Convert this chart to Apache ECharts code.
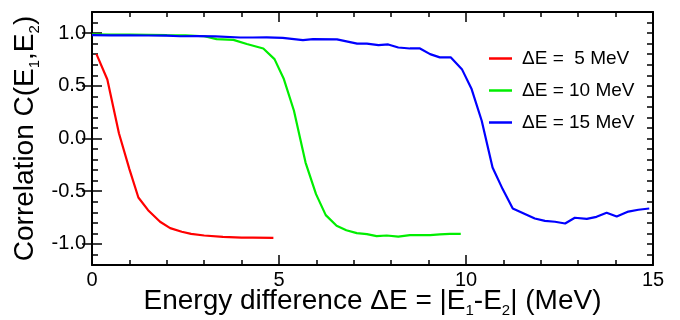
<!DOCTYPE html>
<html>
<head>
<meta charset="utf-8">
<script src="https://cdn.jsdelivr.net/npm/echarts@6/dist/echarts.min.js"></script>
<style>html,body{margin:0;padding:0;background:#fff}#c{width:680px;height:320px}</style>
</head>
<body>
<div id="c"></div>
<script>
const seriesNames = ['\u0394E =  5 MeV', '\u0394E = 10 MeV', '\u0394E = 15 MeV'];
const yTickLabels = [-1.0, -0.5, 0.0, 0.5, 1.0];

const redX = [0.12, 0.41, 0.72, 1.0, 1.24, 1.5, 1.82, 2.09, 2.4, 2.65, 3.0, 3.5, 4.0, 4.3, 4.85];
const redY = [0.80, 0.56, 0.05, -0.29, -0.56, -0.68, -0.79, -0.85, -0.885, -0.905, -0.92, -0.933, -0.94, -0.94, -0.942];

const greenX = [0, 0.5, 1.0, 1.5, 2.0, 2.5, 3.0, 3.33, 3.78, 4.14, 4.58, 4.88, 5.13, 5.40, 5.56, 5.71, 5.99, 6.25, 6.54, 6.8, 7.08, 7.35, 7.61, 7.88, 8.19, 8.50, 8.8, 9.04, 9.3, 9.57, 9.86];
const greenY = [0.987, 0.985, 0.985, 0.983, 0.98, 0.978, 0.97, 0.943, 0.936, 0.896, 0.854, 0.753, 0.564, 0.263, 0.01, -0.228, -0.528, -0.727, -0.828, -0.87, -0.898, -0.907, -0.926, -0.92, -0.93, -0.917, -0.917, -0.917, -0.91, -0.904, -0.904];

const blueX = [0, 0.5, 1.0, 1.5, 2.0, 2.35, 2.8, 3.3, 3.96, 4.3, 4.67, 5.1, 5.64, 5.91, 6.55, 7.09, 7.35, 7.66, 7.92, 8.19, 8.50, 8.77, 9.04, 9.30, 9.59, 9.89, 10.15, 10.42, 10.71, 10.98, 11.25, 11.53, 11.84, 12.11, 12.38, 12.65, 12.91, 13.23, 13.49, 13.76, 14.03, 14.34, 14.61, 14.9];
const blueY = [0.98, 0.978, 0.978, 0.977, 0.975, 0.97, 0.972, 0.968, 0.958, 0.958, 0.96, 0.955, 0.933, 0.943, 0.94, 0.90, 0.90, 0.886, 0.892, 0.863, 0.854, 0.854, 0.80, 0.77, 0.77, 0.658, 0.469, 0.168, -0.275, -0.48, -0.664, -0.708, -0.759, -0.781, -0.79, -0.806, -0.752, -0.762, -0.743, -0.705, -0.74, -0.693, -0.676, -0.664];

const colors = ['#ff0000', '#00ee00', '#0000ff'];
const zip = (xs, ys) => xs.map((x, i) => [x, ys[i]]);

const FONT = 'Liberation Sans, Arial, sans-serif';
const lineCol = '#000';
const frame = () => ({ show: true, onZero: false, lineStyle: { color: lineCol, width: 2 } });
const tick = (len, extra) => Object.assign({ show: true, inside: true, length: len, lineStyle: { color: lineCol, width: 1.5 } }, extra || {});
const subRich = () => ({ s: { fontSize: 15, fontFamily: FONT, color: '#000', verticalAlign: 'bottom', lineHeight: 13 } });
const titleStyle = () => ({ fontFamily: FONT, fontSize: 28, lineHeight: 34, color: '#000', rich: subRich() });

const chart = echarts.init(document.getElementById('c'), null, { renderer: 'canvas' });
chart.setOption({
  animation: false,
  backgroundColor: '#fff',
  grid: { left: 92, right: 27, top: 12, bottom: 55, containLabel: false, outerBoundsMode: 'none' },
  legend: {
    orient: 'vertical', left: 484, top: 44, padding: 5, itemWidth: 23, itemHeight: 2.5, itemGap: 13,
    icon: 'rect',
    data: seriesNames,
    textStyle: { fontFamily: FONT, fontSize: 19, color: '#000', padding: [0, 0, 0, 5] }
  },
  xAxis: [
    {
      type: 'value', position: 'bottom', min: 0, max: 15, interval: 5,
      axisLine: frame(),
      axisTick: tick(10),
      minorTick: { show: true, splitNumber: 5, length: 5, lineStyle: { color: lineCol, width: 1.5 } },
      splitLine: { show: false }, minorSplitLine: { show: false },
      axisLabel: { fontFamily: FONT, fontSize: 20, color: '#000', margin: 5 },
      name: 'Energy difference \u0394E = |E{s|1}-E{s|2}| (MeV)',
      nameLocation: 'middle', nameGap: 19, nameMoveOverlap: false,
      nameTextStyle: titleStyle()
    },
    {
      type: 'value', position: 'top', min: 0, max: 15, interval: 5,
      axisLine: frame(),
      axisTick: tick(10),
      minorTick: { show: true, splitNumber: 5, length: 5, lineStyle: { color: lineCol, width: 1.5 } },
      splitLine: { show: false }, minorSplitLine: { show: false }, axisLabel: { show: false }
    }
  ],
  yAxis: [
    {
      type: 'value', position: 'left', min: -1.2, max: 1.2, interval: 0.1,
      axisLine: frame(),
      axisTick: tick(6),
      splitLine: { show: false }, axisLabel: { show: false },
      name: 'Correlation C(E{s|1},E{s|2})',
      nameLocation: 'middle', nameGap: 50, nameMoveOverlap: false,
      nameTextStyle: titleStyle()
    },
    {
      type: 'value', position: 'left', min: -1.2, max: 1.2, interval: 0.1,
      axisLine: { show: false },
      axisTick: tick(10, { customValues: yTickLabels }),
      splitLine: { show: false },
      axisLabel: { fontFamily: FONT, fontSize: 20, color: '#000', margin: 6,
        customValues: yTickLabels, formatter: v => v.toFixed(1) }
    },
    {
      type: 'value', position: 'right', min: -1.2, max: 1.2, interval: 0.1,
      axisLine: frame(),
      axisTick: tick(6),
      splitLine: { show: false }, axisLabel: { show: false }
    },
    {
      type: 'value', position: 'right', min: -1.2, max: 1.2, interval: 0.1,
      axisLine: { show: false },
      axisTick: tick(10, { customValues: yTickLabels }),
      splitLine: { show: false }, axisLabel: { show: false }
    }
  ],
  series: [
    { name: seriesNames[0], type: 'line', symbol: 'none', data: zip(redX, redY), lineStyle: { width: 2.2, color: colors[0] }, itemStyle: { color: colors[0] } },
    { name: seriesNames[1], type: 'line', symbol: 'none', data: zip(greenX, greenY), lineStyle: { width: 2.2, color: colors[1] }, itemStyle: { color: colors[1] } },
    { name: seriesNames[2], type: 'line', symbol: 'none', data: zip(blueX, blueY), lineStyle: { width: 2.2, color: colors[2] }, itemStyle: { color: colors[2] } }
  ]
});
</script>
</body>
</html>
